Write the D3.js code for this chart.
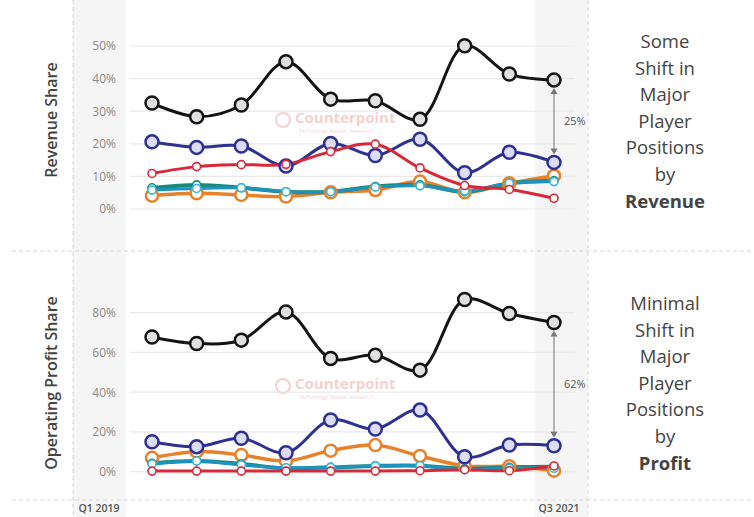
<!DOCTYPE html>
<html><head><meta charset="utf-8">
<script src="https://cdn.jsdelivr.net/npm/d3@7/dist/d3.min.js"></script>
<style>
html,body{margin:0;padding:0;background:#fff;}
svg{display:block;font-family:"Open Sans",sans-serif;}
</style></head>
<body><svg id="c" width="754" height="517"></svg>
<script>
// ---- data ----
const quarters = ["Q1 2019","Q2 2019","Q3 2019","Q4 2019","Q1 2020","Q2 2020","Q3 2020","Q4 2020","Q1 2021","Q2 2021"];
const edgeLabels = ["Q1 2019","Q3 2021"];
const revTicks = [0,0.1,0.2,0.3,0.4,0.5];
const profTicks = [0,0.2,0.4,0.6,0.8];

const revBlack  = [0.325,0.283,0.319,0.452,0.337,0.332,0.275,0.501,0.414,0.396];
const revNavy   = [0.206,0.189,0.193,0.132,0.201,0.164,0.214,0.111,0.174,0.143];
const revRed    = [0.109,0.130,0.136,0.137,0.176,0.199,0.126,0.072,0.060,0.033];
const revOrange = [0.041,0.048,0.043,0.038,0.051,0.058,0.084,0.051,0.079,0.102];
const revTeal   = [0.065,0.074,0.065,0.053,0.053,0.069,0.074,0.053,0.079,0.087];
const revCyan   = [0.058,0.063,0.065,0.053,0.053,0.067,0.071,0.055,0.079,0.084];

const profBlack  = [0.678,0.645,0.662,0.804,0.570,0.586,0.511,0.866,0.796,0.751];
const profNavy   = [0.151,0.126,0.168,0.095,0.260,0.215,0.310,0.075,0.134,0.131];
const profOrange = [0.070,0.101,0.084,0.054,0.106,0.134,0.079,0.029,0.027,0.005];
const profTeal   = [0.042,0.054,0.039,0.017,0.022,0.029,0.030,0.015,0.022,0.025];
const profCyan   = [0.039,0.054,0.034,0.020,0.022,0.029,0.030,0.010,0.017,0.017];
const profRed    = [0.003,0.003,0.003,0.003,0.003,0.003,0.005,0.010,0.005,0.029];

const revGap = "25%";
const profGap = "62%";
const revNote = ["Some","Shift in","Major","Player","Positions","by","Revenue"];
const profNote = ["Minimal","Shift in","Major","Player","Positions","by","Profit"];

// ---- drawing ----
const svg = d3.select("#c");
const x = d3.scalePoint().domain(quarters).range([152, 554]);
const yRev = d3.scaleLinear().domain([0,0.5]).range([209, 46]);
const yProf = d3.scaleLinear().domain([0,0.8]).range([471.7, 312.7]);

// shaded bands
svg.append("rect").attr("x",73).attr("y",0).attr("width",53).attr("height",517).attr("fill","#f5f5f5");
svg.append("rect").attr("x",535).attr("y",0).attr("width",53).attr("height",517).attr("fill","#f5f5f5");
// dashed separators
svg.append("line").attr("x1",73).attr("x2",73).attr("y1",0).attr("y2",517).attr("stroke","#d8d8d8").attr("stroke-dasharray","4,3");
svg.append("line").attr("x1",588).attr("x2",588).attr("y1",0).attr("y2",517).attr("stroke","#d8d8d8").attr("stroke-dasharray","4,3");
[251,500].forEach(yy=>{
  svg.append("line").attr("x1",12).attr("x2",754).attr("y1",yy).attr("y2",yy).attr("stroke","#d8d8d8").attr("stroke-dasharray","4,3");
});

function watermark(cx, cy){
  const g = svg.append("g").attr("opacity",0.45);
  g.append("circle").attr("cx",cx).attr("cy",cy+2).attr("r",7).attr("fill","none").attr("stroke","#e79a9a").attr("stroke-width",2);
  g.append("text").attr("x",cx+12).attr("y",cy+5).attr("font-size",15).attr("font-weight",700).attr("fill","#e79a9a").text("Counterpoint");
  g.append("text").attr("x",cx+16).attr("y",cy+15).attr("font-size",5.5).attr("fill","#e0a8a8").text("Technology Market Research");
}

function panel(y, ticks, series, title, titleY, gapLabel, gapTop, gapBottom, note, noteY){
  const g = svg.append("g");
  // gridlines
  g.selectAll(".grid").data(ticks).join("line")
    .attr("x1",130).attr("x2",575).attr("y1",d=>y(d)).attr("y2",d=>y(d))
    .attr("stroke","#e9e9e9").attr("stroke-width",1.2);
  // tick labels via axis
  const ax = d3.axisLeft(y).tickValues(ticks).tickFormat(d3.format(".0%")).tickSize(0).tickPadding(0);
  const axg = g.append("g").attr("transform","translate(116,0)").call(ax);
  axg.select(".domain").remove();
  axg.selectAll("text").attr("font-size",12).attr("fill","#8a8a8a").attr("font-family","Open Sans, sans-serif");
  // title
  g.append("text").attr("transform",`translate(57,${titleY}) rotate(-90)`).attr("text-anchor","middle")
    .attr("font-size",16).attr("font-weight",600).attr("fill","#444").text(title);

  const line = d3.line().x((d,i)=>x(quarters[i])).y(d=>y(d)).curve(d3.curveCatmullRom.alpha(0.5));
  series.forEach(s=>{
    g.append("path").datum(s.values).attr("d",line).attr("fill","none")
      .attr("stroke",s.color).attr("stroke-width",s.width).attr("stroke-linejoin","round");
  });
  series.forEach(s=>{
    g.selectAll(null).data(s.values).join("circle")
      .attr("cx",(d,i)=>x(quarters[i])).attr("cy",d=>y(d)).attr("r",s.r)
      .attr("fill",s.fill).attr("stroke",s.mstroke).attr("stroke-width",s.sw);
  });
  // gap annotation
  const last = quarters[quarters.length-1];
  const ax0 = x(last);
  const top = y(gapTop)+8, bot = y(gapBottom)-8;
  g.append("line").attr("x1",ax0).attr("x2",ax0).attr("y1",top+4).attr("y2",bot-4).attr("stroke","#8a8a8a").attr("stroke-width",1.2);
  g.append("path").attr("d",`M${ax0-3.5},${top+6}L${ax0},${top}L${ax0+3.5},${top+6}Z`).attr("fill","#777");
  g.append("path").attr("d",`M${ax0-3.5},${bot-6}L${ax0},${bot}L${ax0+3.5},${bot-6}Z`).attr("fill","#777");
  g.append("text").attr("x",ax0+10).attr("y",(top+bot)/2+4).attr("font-size",11).attr("fill","#555").text(gapLabel);
  // note
  g.selectAll(".note").data(note).join("text")
    .attr("x",665).attr("y",(d,i)=>noteY+i*26.6).attr("text-anchor","middle")
    .attr("font-size",18.5).attr("fill","#444").attr("font-weight",(d,i)=>i===note.length-1?700:400)
    .text(d=>d);
}

const C = {black:"#141414", navy:"#2e3192", red:"#d8283a", orange:"#e8822a", teal:"#178a7c", cyan:"#1e93c2"};
function mk(values, kind){
  switch(kind){
    case "black": return {values,color:C.black,width:3,r:6.5,fill:"#e0e0e0",mstroke:C.black,sw:2.5};
    case "navy": return {values,color:C.navy,width:3,r:6.5,fill:"#dcdcf4",mstroke:C.navy,sw:2.5};
    case "red": return {values,color:C.red,width:3,r:4,fill:"#fff",mstroke:C.red,sw:1.6};
    case "orange": return {values,color:C.orange,width:3.5,r:6,fill:"#fff",mstroke:C.orange,sw:2.5};
    case "teal": return {values,color:C.teal,width:4,r:4,fill:"#fff",mstroke:C.teal,sw:1.6};
    case "cyan": return {values,color:C.cyan,width:3,r:4,fill:"#fff",mstroke:"#35b8dc",sw:1.6};
  }
}

watermark(283, 118);
watermark(283, 384);

panel(yRev, revTicks,
  [mk(revOrange,"orange"), mk(revTeal,"teal"), mk(revCyan,"cyan"), mk(revNavy,"navy"), mk(revRed,"red"), mk(revBlack,"black")],
  "Revenue Share", 120, revGap, revBlack[revBlack.length-1], revNavy[revNavy.length-1], revNote, 48);

panel(yProf, profTicks,
  [mk(profOrange,"orange"), mk(profTeal,"teal"), mk(profCyan,"cyan"), mk(profNavy,"navy"), mk(profRed,"red"), mk(profBlack,"black")],
  "Operating Profit Share", 383, profGap, profBlack[profBlack.length-1], profNavy[profNavy.length-1], profNote, 310);

// edge labels
svg.selectAll(".edge").data(edgeLabels).join("text")
  .attr("x",(d,i)=>i===0?99:559).attr("y",512).attr("text-anchor","middle")
  .attr("font-size",10.5).attr("font-weight",600).attr("fill","#555").text(d=>d);
</script></body></html>
